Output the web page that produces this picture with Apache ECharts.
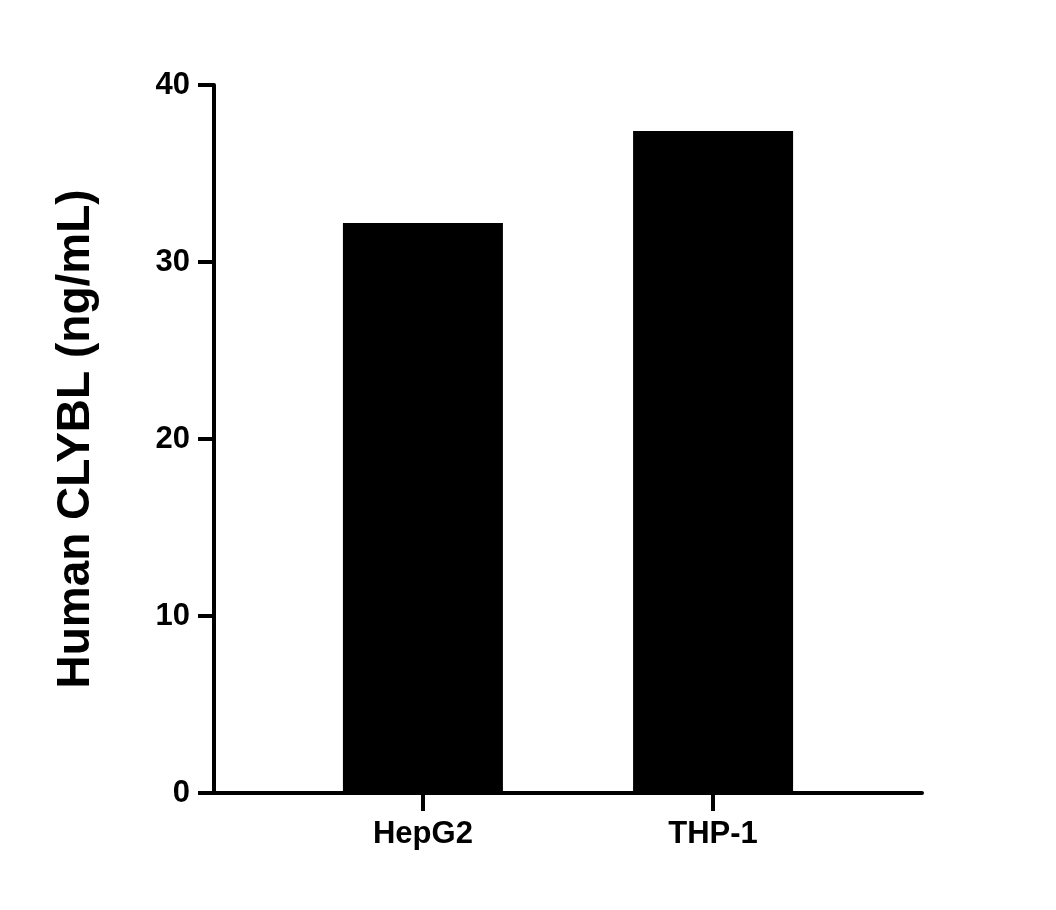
<!DOCTYPE html>
<html><head><meta charset="utf-8">
<script src="https://cdn.jsdelivr.net/npm/echarts@6/dist/echarts.min.js"></script>
<style>html,body{margin:0;background:#fff}#c{width:1056px;height:910px}</style>
</head><body><div id="c"></div>
<script>
const categories = ["HepG2", "THP-1"];
const values = [32.2, 37.4];
const yTicks = [0, 10, 20, 30, 40];

const chart = echarts.init(document.getElementById('c'));
const font = '"Liberation Sans", Arial, sans-serif';
chart.setOption({
  animation: false,
  grid: {left: 214, top: 85, width: 708, height: 708, containLabel: false},
  xAxis: {
    type: 'value', min: 0.28, max: 2.72,
    splitLine: {show: false},
    axisLine: {show: true, onZero: false, lineStyle: {color: '#000', width: 4}},
    axisTick: {show: true, length: 18, lineStyle: {color: '#000', width: 4}, customValues: [1, 2]},
    axisLabel: {customValues: [1, 2], formatter: v => categories[Math.round(v) - 1] || '',
      color: '#000', fontSize: 31, fontWeight: 'bold', fontFamily: font, margin: 26}
  },
  yAxis: {
    type: 'value', min: 0, max: 40, interval: 10,
    name: 'Human CLYBL (ng/mL)', nameLocation: 'middle', nameGap: 115,
    nameTextStyle: {color: '#000', fontSize: 46, fontWeight: 'bold', fontFamily: font},
    splitLine: {show: false},
    axisLine: {show: true, lineStyle: {color: '#000', width: 4}},
    axisTick: {show: true, length: 16, lineStyle: {color: '#000', width: 4}},
    axisLabel: {color: '#000', fontSize: 31, fontWeight: 'bold', fontFamily: font, margin: 24}
  },
  series: [{
    type: 'bar', barWidth: 160,
    itemStyle: {color: '#000'},
    data: values.map((v, i) => [i + 1, v])
  }]
});
</script></body></html>
